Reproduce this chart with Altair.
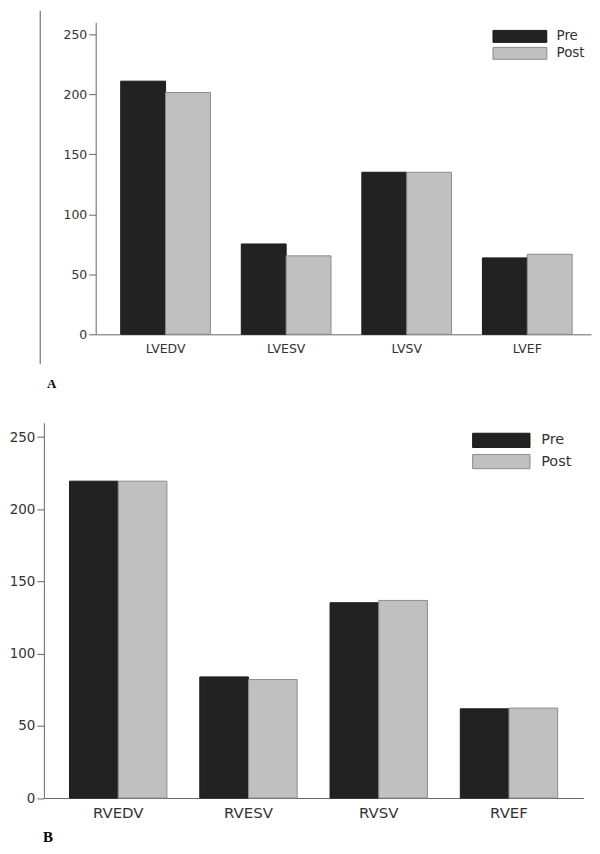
import altair as alt
import pandas as pd

# ---- data ----
cats_a = ["LVEDV", "LVESV", "LVSV", "LVEF"]
pre_a = [211.0, 75.3, 135.1, 63.7]
post_a = [201.6, 65.4, 135.1, 66.7]

cats_b = ["RVEDV", "RVESV", "RVSV", "RVEF"]
pre_b = [219.5, 83.9, 135.3, 61.8]
post_b = [219.5, 82.1, 136.9, 62.3]

series = ["Pre", "Post"]
fills = ["#222222", "#c0c0c0"]
strokes = ["#1a1a1a", "#8c8c8c"]
y_ticks = [0, 50, 100, 150, 200, 250]
y_max = 260


def long(cats, pre, post):
    rows = []
    for c, a, b in zip(cats, pre, post):
        rows.append({"cat": c, "group": "Pre", "value": a})
        rows.append({"cat": c, "group": "Post", "value": b})
    return pd.DataFrame(rows)


FONT = "DejaVu Sans"
TXT = "#333333"
AX = "#666666"


def panel(df, cats, fs_y, fs_x, fs_leg, leg_x, leg_y, sym_path, sym_size,
          lab_off, row_pad, letter, letter_x, letter_y, letter_fs, spacer,
          x_scale, y_offset=0):
    legend = alt.Legend(
        orient="none", legendX=leg_x, legendY=leg_y, title=None, padding=0,
        symbolType=sym_path, symbolSize=sym_size, symbolStrokeWidth=1,
        symbolOpacity=1, labelOffset=lab_off, rowPadding=row_pad,
        labelFont=FONT, labelFontSize=fs_leg, labelColor=TXT,
    )
    bars = alt.Chart(df).mark_bar(strokeWidth=1, opacity=1).encode(
        x=alt.X("cat:N", sort=cats, title=None,
                scale=alt.Scale(**x_scale),
                axis=alt.Axis(ticks=False, tickSize=0, labelAngle=0, labelFont=FONT,
                              labelFontSize=fs_x, labelColor=TXT, labelPadding=8,
                              domainColor=AX, grid=False)),
        xOffset=alt.XOffset("group:N", sort=series,
                            scale=alt.Scale(domain=series, paddingInner=0, paddingOuter=0)),
        y=alt.Y("value:Q", title=None,
                scale=alt.Scale(domain=[0, y_max], nice=False),
                axis=alt.Axis(values=y_ticks, grid=False, tickSize=7, tickColor=AX,
                              domainColor=AX, labelFont=FONT, labelFontSize=fs_y,
                              labelColor=TXT, labelPadding=2, offset=y_offset)),
        color=alt.Color("group:N", sort=series,
                        scale=alt.Scale(domain=series, range=fills), legend=legend),
        stroke=alt.Stroke("group:N", sort=series,
                          scale=alt.Scale(domain=series, range=strokes), legend=legend),
    )
    lab = alt.Chart(pd.DataFrame({"t": [letter]})).mark_text(
        font="Liberation Serif", fontWeight="bold", fontSize=letter_fs,
        color="#000000", align="center", baseline="alphabetic"
    ).encode(text="t:N", x=alt.value(letter_x), y=alt.value(letter_y))
    sp = alt.Chart(pd.DataFrame({"t": [0]})).mark_rule(opacity=0, strokeWidth=0).encode(
        x=alt.value(spacer[0]), y=alt.value(spacer[1]), y2=alt.value(spacer[2]))
    return [bars, lab, sp]


# Panel A: its plot sits to the right of panel B's, so its y axis is moved in
layers_a = panel(long(cats_a, pre_a, post_a), cats_a, 12.5, 12.5, 13.5,
                 470.9, 7.3, "M-4.5,-1H4.5V1H-4.5Z", 144, 30, 0,
                 "A", 7.7, 367, 13, (-35, -11, 375),
                 x_scale=dict(range=[52, 549], paddingInner=0.256,
                              paddingOuter=0.182, align=0.57),
                 y_offset=-52)
vline = alt.Chart(pd.DataFrame({"t": [0]})).mark_rule(color="#555555", strokeWidth=1).encode(
    x=alt.value(-3.7), y=alt.value(-11.5), y2=alt.value(342.7))
chart_a = alt.layer(*layers_a, vline).properties(width=549, height=313)

layers_b = panel(long(cats_b, pre_b, post_b), cats_b, 13.5, 15, 14.5,
                 451, 9.7, "M-4.03,-1H4.03V1H-4.03Z", 204, 32, 1.3,
                 "B", 4, 420.3, 15, (-35, -10, 0),
                 x_scale=dict(paddingInner=0.2525, paddingOuter=0.197))
chart_b = alt.layer(*layers_b).properties(width=541.3, height=376.6)

chart = (
    alt.concat(chart_a, chart_b, columns=1, spacing=14.7, align="none", bounds="full")
    .resolve_scale(x="independent", y="independent", xOffset="independent",
                   color="independent", stroke="independent")
    .resolve_legend(color="independent", stroke="independent")
    .properties(padding=0)
    .configure_view(stroke="transparent")
)

chart.save("out.html", embed_options={"renderer": "svg", "actions": False})
